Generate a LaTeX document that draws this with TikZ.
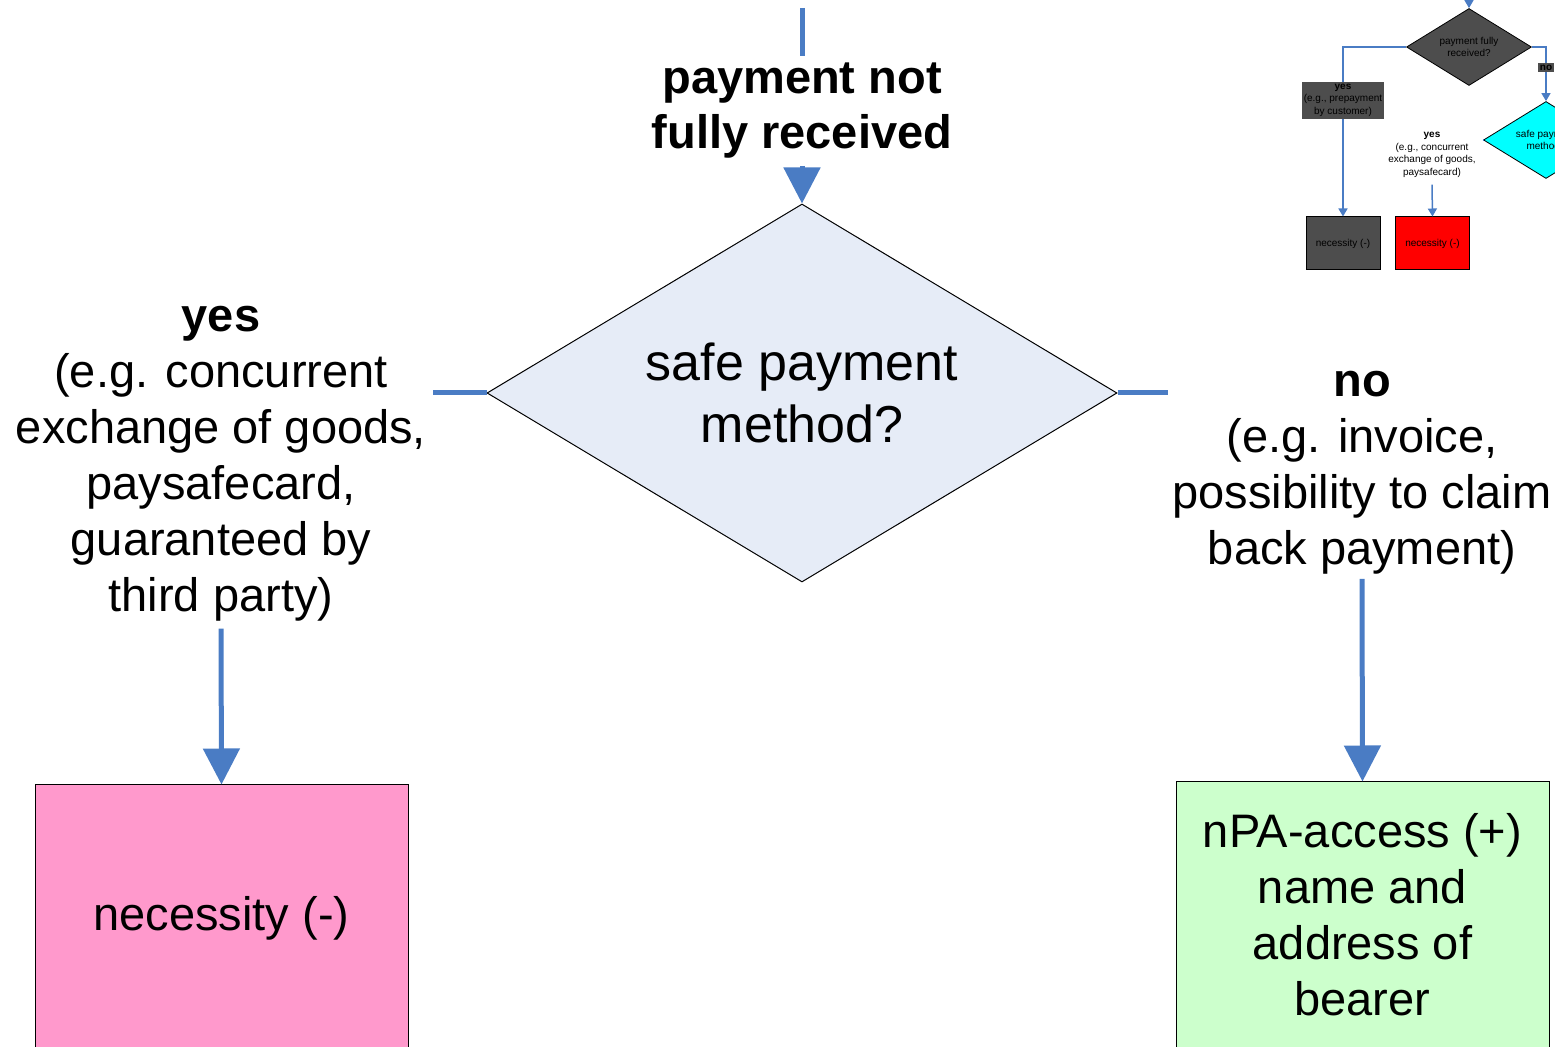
\documentclass[tikz,border=0pt]{standalone}
\usepackage{fontspec}
\setmainfont{Liberation Sans}
\usepackage{xcolor}
\usepackage{tikz}
\usetikzlibrary{shapes,arrows.meta,shapes.geometric}

\definecolor{flowblue}{HTML}{4A7CC4}
\definecolor{decfill}{HTML}{E6ECF7}
\definecolor{negfill}{HTML}{FF99CC}
\definecolor{posfill}{HTML}{CCFFCC}
\definecolor{darkfill}{HTML}{4D4D4D}
\definecolor{safefill}{HTML}{00FFFF}

\tikzset{
  bigtxt/.style={font=\fontsize{23.5}{28}\selectfont, align=center},
  flow/.style={draw=flowblue, line width=2.5pt},
  flowarrow/.style={flow, -{Triangle[width=18pt,length=18pt]}},
  outcome/.style={rectangle, draw=black, line width=0.5pt, minimum width=186.5pt, minimum height=133pt, bigtxt},
  minitxt/.style={font=\fontsize{5}{6.3}\selectfont, align=center},
  miniflow/.style={draw=flowblue, line width=0.75pt, -{Triangle[width=4.5pt,length=4pt]}},
  minidec/.style={diamond, draw=black, line width=0.4pt, minimum width=62.5pt, minimum height=38.5pt, shape aspect=1.6, inner sep=0pt, minitxt},
  minibox/.style={rectangle, draw=black, line width=0.5pt, minimum width=37pt, minimum height=26.5pt, minitxt},
}

\begin{document}
\begin{tikzpicture}[x=0.5pt,y=-0.5pt]
    \clip (0,0) rectangle (1555,1047);

    % main decision
    \node[diamond,draw=black,fill=decfill,line width=0.5pt,minimum width=315pt,minimum height=189pt,shape aspect=1.667,inner sep=0pt,align=center,font=\fontsize{26}{31}\selectfont] (dec) at (802,393) {safe payment\\method?};
    \coordinate (in) at (802,8);
    \node[align=center,font=\bfseries\fontsize{23.5}{27.5}\selectfont] (paid) at (802,111) {payment not\\fully received};
    \node[bigtxt] (yes) at (221,464) {\textbf{yes}\\(e.g. concurrent\\exchange of goods,\\paysafecard,\\guaranteed by\\third party)};
    \node[bigtxt,inner sep=2pt] (no) at (1362,473) {\textbf{no}\\(e.g. invoice,\\possibility to claim\\back payment)};

    \node[outcome,fill=negfill] (neg) at (221.5,918) {necessity (-)};
    \node[outcome,fill=posfill] (pos) at (1362.5,915) {nPA-access (+)\\name and\\address of\\bearer};

    \draw[flow] (in) -- (paid.north);
    \draw[flowarrow] (paid.south) -- (dec.north);
    \draw[flow] (dec.west) -- (yes.east |- dec.west);
    \draw[flow] (dec.east) -- (no.west |- dec.east);
    \draw[flowarrow] (yes.south) -- (neg.north);
    \draw[flowarrow] (no.south) -- (pos.north);

    % overview inset
    \coordinate (top) at (1469,-10);
    \node[minidec,fill=darkfill] (d1) at (1469,47) {payment fully\\received?};
    \node[minidec,fill=safefill] (d2) at (1546,140) {safe payment\\method?};
    \node[minitxt] (yes2) at (1432,155) {\textbf{yes}\\(e.g., concurrent\\exchange of goods,\\paysafecard)};
    \node[minibox,fill=darkfill] (g1) at (1343,243.5) {necessity (-)};
    \node[minibox,fill=red] (r1) at (1432.5,243.5) {necessity (-)};

    \draw[miniflow] (top) -- (d1.north);
    \draw[miniflow] (d1.west) -| node[pos=0.657,minitxt,fill=darkfill,inner sep=1pt,minimum width=40pt] {\textbf{yes}\\(e.g., prepayment\\by customer)} (g1.north);
    \draw[miniflow] (d1.east) -| node[pos=0.69,minitxt,fill=darkfill,inner sep=1pt] {\textbf{no}} (d2.north);
    \draw[draw=flowblue,line width=0.75pt] (d2.west) -- (yes2.east |- d2.west);
    \draw[miniflow] (yes2.south) -- (r1.north);
\end{tikzpicture}
\end{document}
